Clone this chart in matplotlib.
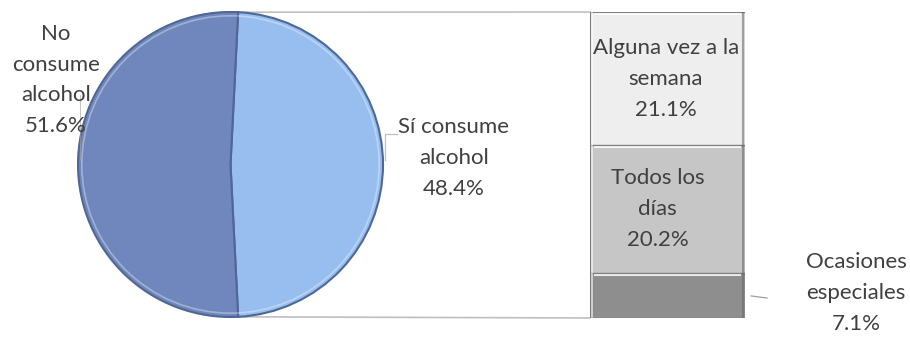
import matplotlib
matplotlib.use("Agg")
import matplotlib.pyplot as plt
from matplotlib.patches import ConnectionPatch, Circle
import numpy as np

plt.rcParams['font.family'] = ['Lato', 'DejaVu Sans']

# Main split: alcohol consumption
pie_labels = ["Sí consume\nalcohol", "No\nconsume\nalcohol"]
pie_values = [48.4, 51.6]
pie_colors = ["#97BEEE", "#6F87BD"]

# Breakdown of those who drink (bottom to top)
bar_labels = ["Ocasiones\nespeciales", "Todos los\ndías", "Alguna vez a la\nsemana"]
bar_values = [7.1, 20.2, 21.1]
bar_colors = ["#8E8E8E", "#C6C6C6", "#EEEEEE"]

TEXT = "#404040"
FS = 16
LS = 1.68

W, H = 910, 344
fig = plt.figure(figsize=(W / 100, H / 100), dpi=100)
fig.patch.set_facecolor("white")


def px_axes(x0, y0, x1, y1):
    return fig.add_axes([x0 / W, 1 - y1 / H, (x1 - x0) / W, (y1 - y0) / H])


def fx(x):
    return x / W


def fy(y):
    return 1 - y / H


# ---- pie: the "Sí" slice is centred on the right-hand side ----
ax_pie = px_axes(78, 12, 383, 317)
half = pie_values[0] / 100 * 180
wedges, _ = ax_pie.pie(pie_values, colors=pie_colors, startangle=-half,
                       counterclock=True, radius=1,
                       wedgeprops=dict(edgecolor="#4E6796", linewidth=1.5))
# soft inner rim for a bevelled look
ax_pie.add_patch(Circle((0, 0), 0.975, fill=False,
                        edgecolor=(1, 1, 1, 0.35), linewidth=1.2))
ax_pie.set_xlim(-1, 1)
ax_pie.set_ylim(-1, 1)
ax_pie.set_aspect("equal")
ax_pie.axis("off")

# ---- stacked bar ----
ax_bar = px_axes(590, 12, 745, 318)
bottoms = np.concatenate([[0], np.cumsum(bar_values)[:-1]])
ax_bar.bar([0] * len(bar_values), bar_values, bottom=bottoms, width=1,
           color=bar_colors, edgecolor="#7A7A7A", linewidth=1.0)
total = sum(bar_values)
ax_bar.set_xlim(-0.5, 0.5)
ax_bar.set_ylim(0, total)
ax_bar.axis("off")
# bevel highlights / shadows on each segment
for b, v in zip(bottoms, bar_values):
    ax_bar.plot([-0.47, 0.47], [b + v - 0.25, b + v - 0.25], color="white",
                lw=1.5, alpha=0.8)
    ax_bar.plot([0.485, 0.485], [b + 0.15, b + v - 0.15], color="#6A6A6A",
                lw=1.5, alpha=0.6)
    ax_bar.plot([-0.485, -0.485], [b + 0.15, b + v - 0.15], color="white",
                lw=1.2, alpha=0.7)

# connector lines from the edges of the "Sí" slice to the bar
start = np.deg2rad(-half)
end = np.deg2rad(half)
upper = (np.cos(end), np.sin(end))
lower = (np.cos(start), np.sin(start))
for pt, yb in [(upper, total), (lower, 0)]:
    con = ConnectionPatch(xyA=pt, coordsA=ax_pie.transData,
                          xyB=(-0.5, yb), coordsB=ax_bar.transData,
                          color="#BFBFBF", linewidth=1.2, zorder=0)
    fig.add_artist(con)


# ---- labels ----
def fmt(lbl, v):
    return f"{lbl}\n{v:.1f}%"


fig.text(fx(56), fy(80), fmt(pie_labels[1], pie_values[1]), ha="center",
         va="center", fontsize=FS, color=TEXT, linespacing=LS)
fig.text(fx(454), fy(158), fmt(pie_labels[0], pie_values[0]), ha="center",
         va="center", fontsize=FS, color=TEXT, linespacing=LS)

# label leaders
fig.add_artist(plt.Line2D([fx(385), fx(397)], [fy(134), fy(134)],
                          color="#BFBFBF", linewidth=0.9))
fig.add_artist(plt.Line2D([fx(385), fx(385)], [fy(134), fy(160)],
                          color="#BFBFBF", linewidth=0.9))
fig.add_artist(plt.Line2D([fx(80), fx(80)], [fy(95), fy(160)],
                          color="#A0A0A0", linewidth=0.8, alpha=0.6))

for i, (lbl, v) in enumerate(zip(bar_labels, bar_values)):
    yc = bottoms[i] + v / 2
    if i == 0:
        fig.text(fx(856), fy(293), fmt(lbl, v), ha="center", va="center",
                 fontsize=FS, color=TEXT, linespacing=LS)
        ax_bar.annotate("", xy=(0.52, yc), xytext=(0.5 + 25 / 155, yc - 0.45),
                        arrowprops=dict(arrowstyle="-", color="#A0A0A0", lw=0.9),
                        annotation_clip=False)
    else:
        xoff = -0.065 if i == 1 else -0.01
        ax_bar.text(xoff, yc, fmt(lbl, v), ha="center", va="center",
                    fontsize=FS, color=TEXT, linespacing=LS)

fig.savefig("out.png", dpi=100, facecolor="white")
